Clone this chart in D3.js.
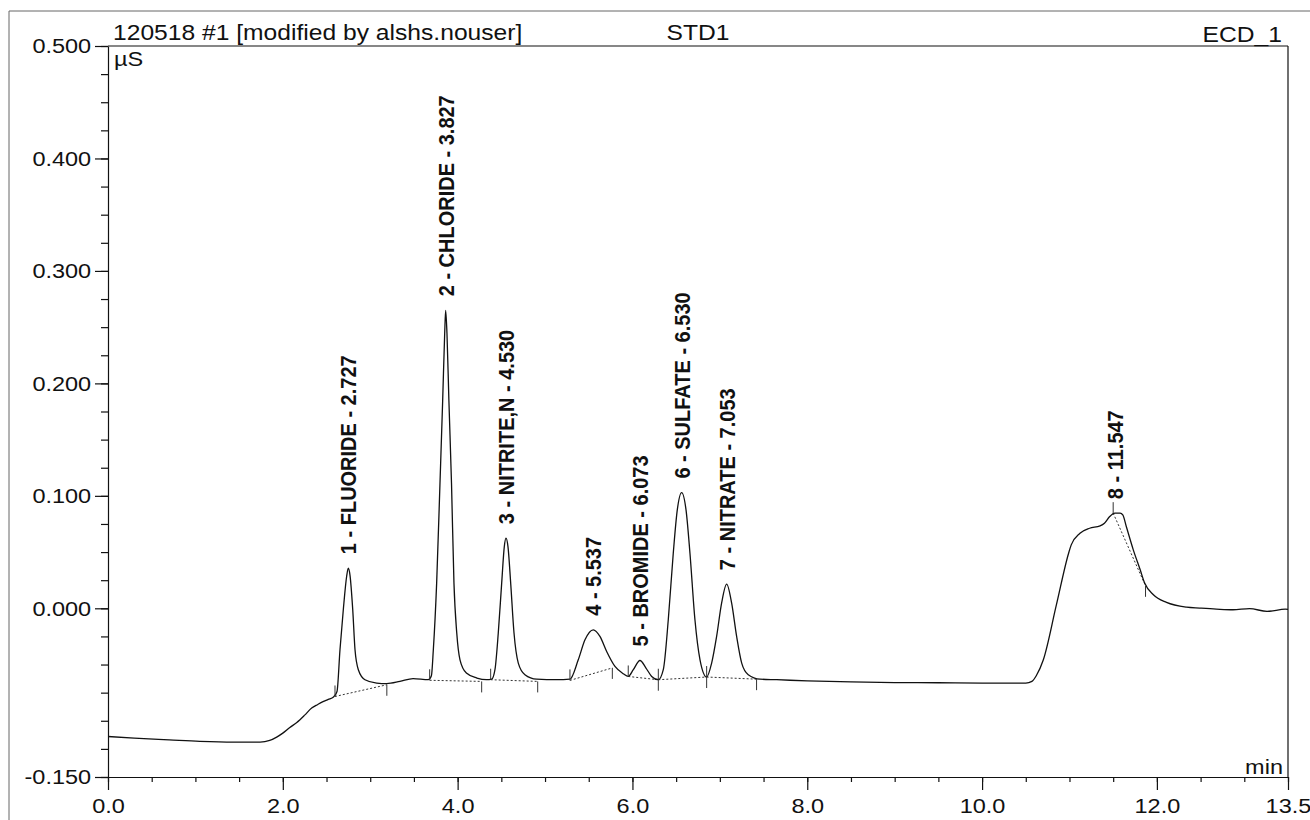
<!DOCTYPE html>
<head>
  <meta charset="utf-8">
  <script src="https://d3js.org/d3.v7.min.js"></script>
  <style>
    body { margin: 0; background: #ffffff; }
    svg { display: block; }
    text { font-family: 'Liberation Sans', Arial, sans-serif; fill: #111111; }
    .axis path, .axis line { stroke: #111111; stroke-width: 1.2; }
    .axis text { font-size: 21px; }
    .header { font-size: 22px; }
    .unit { font-size: 21px; }
    .trace { fill: none; stroke: #111111; stroke-width: 1.3; }
    .base { fill: none; stroke: #333333; stroke-width: 1; stroke-dasharray: 2 2; }
    .delim { stroke: #333333; stroke-width: 1; }
    .peakLabel { font-size: 20px; font-weight: bold; }
    .border { stroke: #666666; stroke-width: 1; }
  </style>
</head>
<body>
<div id="chart"></div>
<script>

///////////////////////////////////////////////////////////////////////////
//////////////////////////// Data ////////////////////
///////////////////////////////////////////////////////////////////////////

// chromatogram trace: [min, µS]
const trace = [
  [0.00,-0.114],[0.30,-0.1155],[0.70,-0.117],[1.05,-0.1183],[1.43,-0.119],[1.74,-0.119],
  [1.85,-0.1175],[1.93,-0.1145],[2.00,-0.111],[2.08,-0.106],[2.16,-0.1015],[2.25,-0.095],
  [2.33,-0.0887],[2.40,-0.0855],[2.46,-0.083],[2.52,-0.081],[2.58,-0.0788],
  // 1 fluoride
  [2.62,-0.074],[2.654,-0.0369],[2.692,-0.0013],[2.73,0.0283],[2.749,0.0357],[2.768,0.0298],
  [2.80,-0.0013],[2.826,-0.0369],[2.864,-0.0546],[2.94,-0.0635],[3.074,-0.0665],[3.19,-0.067],
  [3.34,-0.065],[3.49,-0.0625],[3.665,-0.0635],
  // 2 chloride
  [3.70,-0.060],[3.722,-0.0369],[3.76,0.0224],[3.798,0.111],[3.829,0.185],[3.852,0.2445],
  [3.863,0.265],[3.878,0.2445],[3.90,0.185],[3.93,0.111],[3.958,0.0224],[3.99,-0.022],
  [4.027,-0.0458],[4.10,-0.0576],[4.22,-0.062],[4.33,-0.0635],[4.39,-0.063],
  // 3 nitrite
  [4.427,-0.0546],[4.465,-0.022],[4.504,0.0224],[4.534,0.0549],[4.553,0.0624],[4.576,0.0549],
  [4.607,0.0224],[4.645,-0.022],[4.694,-0.0487],[4.77,-0.059],[4.905,-0.063],[5.133,-0.0635],
  [5.285,-0.063],
  // 4
  [5.38,-0.0458],[5.457,-0.028],[5.552,-0.0191],[5.628,-0.025],[5.705,-0.0384],[5.80,-0.0517],
  [5.895,-0.0582],[5.952,-0.0606],
  // 5 bromide
  [6.01,-0.0546],[6.086,-0.0464],[6.155,-0.0531],[6.22,-0.0606],[6.296,-0.0635],
  // 6 sulfate
  [6.353,-0.0546],[6.41,-0.0102],[6.467,0.049],[6.513,0.0875],[6.563,0.1029],[6.613,0.0875],
  [6.658,0.049],[6.715,-0.0102],[6.773,-0.0458],[6.849,-0.0611],
  // 7 nitrate
  [6.906,-0.0487],[6.963,-0.025],[7.02,0.0046],[7.078,0.0215],[7.135,0.0046],[7.192,-0.025],
  [7.25,-0.0487],[7.325,-0.059],[7.46,-0.063],[7.65,-0.0635],
  [8.00,-0.0645],[8.50,-0.0655],[9.00,-0.066],[9.50,-0.0662],[10.00,-0.0665],[10.30,-0.0665],
  [10.50,-0.0665],
  // 8
  [10.57,-0.065],[10.62,-0.060],[10.70,-0.046],[10.85,0.003],[10.99,0.049],[11.02,0.0564],
  [11.12,0.0668],[11.23,0.0712],[11.35,0.0733],[11.40,0.0757],[11.46,0.0816],[11.52,0.0846],
  [11.58,0.0846],[11.61,0.083],[11.65,0.0727],[11.73,0.052],[11.81,0.034],[11.86,0.0224],
  [11.96,0.012],[12.11,0.0052],[12.34,0.001],[12.49,0.0002],[12.68,-0.0007],[12.87,-0.0013],
  [13.06,-0.0002],[13.26,-0.0028],[13.47,-0.0007],[13.50,-0.001]
];

const peakNumbers = [1, 2, 3, 4, 5, 6, 7, 8];
const peakNames = ["FLUORIDE", "CHLORIDE", "NITRITE,N", "", "BROMIDE", "SULFATE", "NITRATE", ""];
const peakTimes = [2.727, 3.827, 4.530, 5.537, 6.073, 6.530, 7.053, 11.547];

// integration delimiters [min, µS]
const peakStarts = [[2.597,-0.0784],[3.68,-0.064],[4.378,-0.0635],[5.285,-0.0641],
                    [5.952,-0.0606],[6.296,-0.0635],[6.849,-0.0611],[11.50,0.0846]];
const peakEnds   = [[3.19,-0.068],[4.275,-0.065],[4.916,-0.065],[5.77,-0.053],
                    [6.296,-0.0635],[6.849,-0.0611],[7.42,-0.063],[11.87,0.020]];

const xMajorTicks = [0, 2, 4, 6, 8, 10, 12, 13.5];
const yMajorTicks = [-0.15, 0, 0.1, 0.2, 0.3, 0.4, 0.5];

const headerLeft = "120518 #1 [modified by alshs.nouser]";
const headerMid = "STD1";
const headerRight = "ECD_1";
const yUnit = "µS";
const xUnit = "min";

///////////////////////////////////////////////////////////////////////////
//////////////////// Set up svg ///////////////////////////////////////////
///////////////////////////////////////////////////////////////////////////

const W = 1310, H = 820;
const margin = { top: 46, right: 22, bottom: 43, left: 108 };
const width = W - margin.left - margin.right;
const height = H - margin.top - margin.bottom;
const stretch = "scale(1.12,1)";

const root = d3.select("#chart").append("svg")
    .attr("width", W)
    .attr("height", H);

// scanned page border
root.append("line").attr("class", "border").attr("x1", 9).attr("x2", W).attr("y1", 11).attr("y2", 11);
root.append("line").attr("class", "border").attr("x1", 9).attr("x2", 9).attr("y1", 11).attr("y2", H);

const svg = root.append("g")
    .attr("transform", "translate(" + margin.left + "," + margin.top + ")");

const x = d3.scaleLinear().domain([0, 13.5]).range([0, width]);
const y = d3.scaleLinear().domain([-0.15, 0.5]).range([height, 0]);

const loc = d3.formatLocale({ decimal: ".", thousands: ",", grouping: [3], currency: ["", ""], minus: "-" });

///////////////////////////////////////////////////////////////////////////
//////////////////////////// Axes /////////////////////////////////////////
///////////////////////////////////////////////////////////////////////////

svg.append("g").attr("class", "axis")
    .call(d3.axisLeft(y).tickValues(d3.range(-6, 21).map(i => i * 0.025)).tickSize(7).tickFormat(""))
    .call(g => g.select(".domain").remove());

svg.append("g").attr("class", "axis")
    .call(d3.axisLeft(y).tickValues(yMajorTicks).tickSize(13).tickSizeOuter(0).tickPadding(2)
        .tickFormat(loc.format(".3f")))
    .call(g => g.selectAll(".tick text").attr("transform", stretch));

svg.append("g").attr("class", "axis")
    .attr("transform", "translate(0," + height + ")")
    .call(d3.axisBottom(x).tickValues(d3.range(0, 28).map(i => i * 0.5)).tickSize(5).tickFormat(""))
    .call(g => g.select(".domain").remove());

svg.append("g").attr("class", "axis")
    .attr("transform", "translate(0," + height + ")")
    .call(d3.axisBottom(x).tickValues(xMajorTicks).tickSize(13).tickSizeOuter(0).tickPadding(8)
        .tickFormat(d3.format(".1f")))
    .call(g => g.selectAll(".tick text").attr("transform", stretch));

// top and right frame
svg.append("line").style("stroke", "#111").style("stroke-width", 1.2)
    .attr("x1", x(0)).attr("x2", x(13.5)).attr("y1", y(0.5)).attr("y2", y(0.5));
svg.append("line").style("stroke", "#111").style("stroke-width", 1.2)
    .attr("x1", x(13.5)).attr("x2", x(13.5)).attr("y1", y(0.5)).attr("y2", y(-0.15));

///////////////////////////////////////////////////////////////////////////
//////////////////////////// Headers //////////////////////////////////////
///////////////////////////////////////////////////////////////////////////

function putText(str, px, py, anchor, cls) {
  svg.append("text").attr("class", cls)
    .attr("transform", "translate(" + px + "," + py + ") " + stretch)
    .attr("text-anchor", anchor)
    .text(str);
}
putText(headerLeft, 5, -6, "start", "header");
putText(headerMid, width / 2, -6, "middle", "header");
putText(headerRight, width - 6, -4, "end", "header");
putText(yUnit, 6, 20, "start", "unit");
putText(xUnit, width - 5, height - 3, "end", "unit");

///////////////////////////////////////////////////////////////////////////
//////////////////////////// Trace ////////////////////////////////////////
///////////////////////////////////////////////////////////////////////////

const line = d3.line()
    .x(d => x(d[0]))
    .y(d => y(d[1]))
    .curve(d3.curveMonotoneX);

// peak baselines
svg.selectAll(".base")
    .data(peakStarts.map((s, i) => [s, peakEnds[i]]))
    .enter().append("path")
    .attr("class", "base")
    .attr("d", d3.line().x(d => x(d[0])).y(d => y(d[1])));

svg.append("path")
    .datum(trace)
    .attr("class", "trace")
    .attr("d", line);

// delimiter ticks
svg.selectAll(".delimStart")
    .data(peakStarts)
    .enter().append("line")
    .attr("class", "delim")
    .attr("x1", d => x(d[0])).attr("x2", d => x(d[0]))
    .attr("y1", d => y(d[1])).attr("y2", d => y(d[1]) - 11);

svg.selectAll(".delimEnd")
    .data(peakEnds)
    .enter().append("line")
    .attr("class", "delim")
    .attr("x1", d => x(d[0])).attr("x2", d => x(d[0]))
    .attr("y1", d => y(d[1])).attr("y2", d => y(d[1]) + 11);

///////////////////////////////////////////////////////////////////////////
//////////////////////////// Peak labels //////////////////////////////////
///////////////////////////////////////////////////////////////////////////

const peaks = peakTimes.map((rt, i) => {
  const near = trace.filter(d => Math.abs(d[0] - rt) < 0.12);
  const apex = near.reduce((a, b) => (b[1] > a[1] ? b : a));
  const name = peakNames[i];
  return {
    apex: apex,
    label: peakNumbers[i] + " - " + (name ? name + " - " : "") + rt.toFixed(3)
  };
});

svg.selectAll(".peakLabel")
    .data(peaks)
    .enter().append("text")
    .attr("class", "peakLabel")
    .attr("transform", d => "translate(" + x(d.apex[0]) + "," + (y(d.apex[1]) - 14) + ") " + stretch + " rotate(-90)")
    .attr("dy", "0.36em")
    .text(d => d.label);

</script>
</body>
